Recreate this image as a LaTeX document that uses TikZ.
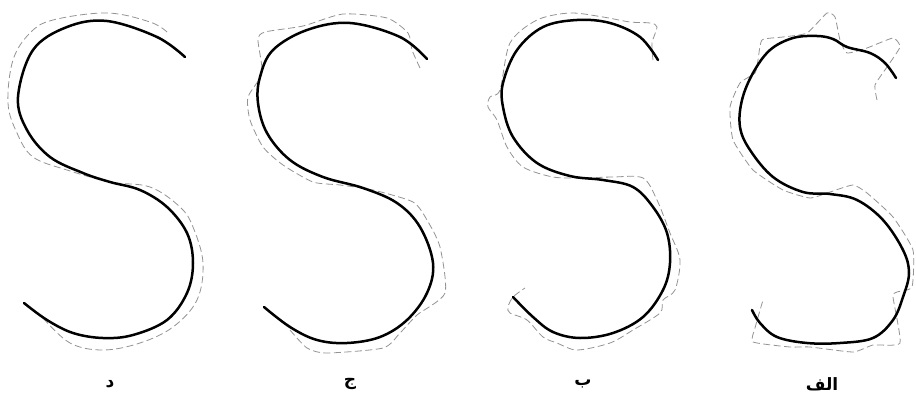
\documentclass[tikz,border=0pt]{standalone}
\usepackage{fontspec}
\newfontfamily\arabicfont[Script=Arabic]{DejaVu Sans}
\TeXXeTstate=1
\begin{document}
\begin{tikzpicture}[x=1pt,y=-1pt,
  curve/.style={line width=2.5pt,black,line cap=round},
  outline/.style={line width=0.8pt,gray!85,dash pattern=on 7pt off 3.5pt},
  lab/.style={font=\arabicfont\bfseries\fontsize{17}{20}\selectfont,inner sep=0pt}]
\useasboundingbox (0,0) rectangle (916,404);
% panel d
\draw[outline] plot[smooth,tension=0.6] coordinates {(167,32)(150,22)(107,13)(53,20)(30,33)(13,60)(8,103)(17,133)(33,157)(67,170)(110,182)(150,187)(180,207)(193,227)(203,263)(197,300)(173,327)(140,343)(103,350)(70,343)(43,318)};
\draw[curve] plot[smooth,tension=0.6] coordinates {(185,57)(157,37)(107,21)(67,27)(33,50)(18,97)(27,130)(50,157)(83,173)(110,182)(140,190)(167,207)(187,233)(193,263)(187,293)(167,320)(133,335)(103,338)(73,333)(47,320)(24,303)};
\node[lab] (ld) at (110,384) {\beginR د\endR};
% panel j
\draw[outline] plot[smooth,tension=0.4] coordinates {(420,68)(412,50)(408,33)(387,18)(343,14)(303,26)(265,32)(258,40)(262,73)(248,97)(250,120)(263,147)(283,165)(313,182)(340,185)(373,190)(413,202)(427,220)(440,247)(445,293)(417,315)(400,333)(383,348)(327,353)(307,348)(290,330)};
\draw[curve] plot[smooth,tension=0.6] coordinates {(427,59)(400,37)(350,23)(307,30)(273,50)(260,77)(258,103)(267,133)(290,160)(323,177)(363,188)(397,203)(420,227)(433,263)(427,293)(407,320)(380,337)(347,343)(317,340)(290,327)(264,307)};
\node[lab] (lj) at (350,384) {\beginR ج\endR};
% panel b
\draw[outline] plot[smooth,tension=0.5] coordinates {(653,60)(652,43)(657,27)(650,23)(630,22)(603,17)(570,13)(537,20)(510,43)(500,90)(490,97)(488,107)(497,120)(507,147)(523,167)(553,177)(583,178)(613,177)(643,178)(657,200)(670,233)(680,260)(675,290)(663,300)(660,313)(633,330)(610,343)(577,350)(557,343)(543,337)(527,320)(510,313)(508,307)(513,297)(525,288)};
\draw[curve] plot[smooth,tension=0.6] coordinates {(658,60)(640,37)(610,23)(577,20)(543,27)(517,50)(503,83)(503,107)(513,137)(537,163)(570,176)(603,180)(633,187)(653,207)(667,233)(670,263)(663,290)(643,317)(613,333)(580,338)(553,332)(533,317)(513,297)};
\node[lab] (lb) at (583,384) {\beginR ب\endR};
% panel alef
\draw[outline] plot[smooth,tension=0.3] coordinates {(877,100)(875,85)(887,67)(900,47)(893,38)(867,48)(847,53)(840,40)(835,17)(827,13)(807,33)(783,37)(762,40)(758,60)(755,73)(740,83)(730,107)(733,140)(753,170)(783,190)(810,198)(830,192)(853,185)(867,193)(893,217)(913,250)(912,287)(897,292)(893,297)(900,343)(873,345)(853,352)(810,347)(790,347)(753,342)(755,328)(763,300)};
\draw[curve] plot[smooth,tension=0.6] coordinates {(896,78)(885,63)(870,53)(847,47)(833,39)(817,36)(793,38)(770,50)(753,73)(742,100)(740,127)(750,150)(773,177)(803,192)(830,194)(857,200)(883,220)(903,250)(909,273)(903,297)(893,320)(873,338)(840,343)(807,343)(777,337)(760,323)(752,310)};
\node[lab] (la) at (822,384) {\beginR الف\endR};
\end{tikzpicture}
\end{document}
